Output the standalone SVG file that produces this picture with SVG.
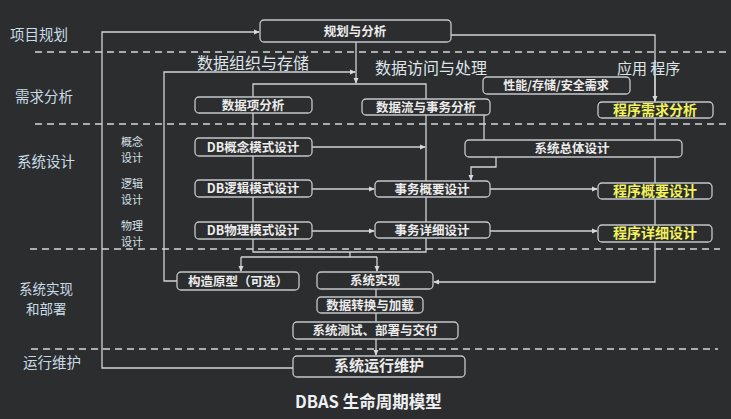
<svg xmlns="http://www.w3.org/2000/svg" width="731" height="419" viewBox="0 0 731 419">
<defs>
<marker id="ah" viewBox="0 0 8 8" refX="7" refY="4" markerWidth="6" markerHeight="6" orient="auto" markerUnits="userSpaceOnUse">
<path d="M0,0.5 L8,4 L0,7.5 Z" fill="#d6dade"/>
</marker>
<style>
.bg{fill:#2c2d2f}
.dash{stroke:#d4d8dc;stroke-width:1.6;stroke-dasharray:7 5;fill:none}
.ln{stroke:#d0d4d8;stroke-width:1.3;fill:none}
.arr{marker-end:url(#ah)}
.box{fill:#2c2d2f;stroke:#c4c8cc;stroke-width:1.3}
.bt{font-family:"Noto Sans CJK SC","Liberation Sans",sans-serif;font-size:12.5px;font-weight:bold;fill:#ececec;text-anchor:middle}
.yt{font-family:"Noto Sans CJK SC","Liberation Sans",sans-serif;font-size:14px;font-weight:bold;fill:#f2f25a;text-anchor:middle}
.lb{font-family:"Noto Sans CJK SC","Liberation Sans",sans-serif;font-size:14.5px;fill:#c8dce6}
.sl{font-family:"Noto Sans CJK SC","Liberation Sans",sans-serif;font-size:11px;fill:#d6e2ea;text-anchor:middle}
.hd{font-family:"Noto Sans CJK SC","Liberation Sans",sans-serif;font-size:16px;fill:#dfe6ea}
</style>
</defs>
<rect class="bg" x="0" y="0" width="731" height="419"/>

<g id="swimlanes">
<line class="dash" x1="35" y1="52" x2="731" y2="52"/>
<line class="dash" x1="35" y1="124" x2="731" y2="124"/>
<line class="dash" x1="30" y1="249" x2="720" y2="249"/>
<line class="dash" x1="31" y1="349" x2="718" y2="349"/>
</g>

<g id="lane-labels">
<text class="lb" x="10" y="40">项目规划</text>
<text class="lb" x="15" y="102">需求分析</text>
<text class="lb" x="17" y="167">系统设计</text>
<text class="lb" x="19" y="294" style="font-size:13.5px">系统实现</text>
<text class="lb" x="26" y="314" style="font-size:13.5px">和部署</text>
<text class="lb" x="23" y="368">运行维护</text>
<text class="sl" x="132" y="146">概念</text>
<text class="sl" x="132" y="162">设计</text>
<text class="sl" x="132" y="188">逻辑</text>
<text class="sl" x="132" y="204">设计</text>
<text class="sl" x="132" y="230">物理</text>
<text class="sl" x="132" y="246">设计</text>
<text class="hd" x="197" y="69">数据组织与存储</text>
<text class="hd" x="375" y="74">数据访问与处理</text>
<text class="hd" x="617" y="74" style="font-size:15px">应用 程序</text>
</g>

<g id="connectors">
<path class="ln arr" d="M293,368 H102 V32 H259"/>
<path class="ln arr" d="M451,35 H655 V282 H434"/>
<path class="ln arr" d="M655,60 V101"/>
<path class="ln arr" d="M356,42 V83"/>
<path class="ln arr" d="M177,281 H164 V72 H355"/>
<path class="ln" d="M253,84 H426 V252 H253 Z"/>
<path class="ln" d="M350,252 V257 M241,257 H377"/>
<path class="ln arr" d="M241,257 V271"/>
<path class="ln arr" d="M377,257 V271"/>
<path class="ln arr" d="M312,147 H425"/>
<path class="ln arr" d="M312,189 H374"/>
<path class="ln arr" d="M312,231 H374"/>
<path class="ln" d="M484,115 V140"/>
<path class="ln arr" d="M496,157 V167 H471 V180"/>
<path class="ln arr" d="M490,189 H597"/>
<path class="ln arr" d="M490,231 H597"/>
<path class="ln" d="M376,289 V297 M376,313 V322"/>
<path class="ln arr" d="M376,339 V355"/>
</g>

<g id="n-plan"><rect class="box" x="260" y="20" width="191" height="22" rx="4"/><text class="bt" x="355" y="36">规划与分析</text></g>
<g id="n-perf"><rect class="box" x="483" y="77" width="147" height="17" rx="4"/><text class="bt" x="556" y="90" style="font-size:12px">性能/存储/安全需求</text></g>
<g id="n-item"><rect class="box" x="195" y="97" width="117" height="16" rx="4"/><text class="bt" x="253" y="110">数据项分析</text></g>
<g id="n-flow"><rect class="box" x="362" y="99" width="128" height="16" rx="4"/><text class="bt" x="426" y="112">数据流与事务分析</text></g>
<g id="n-preq"><rect class="box" x="598" y="102" width="115" height="16" rx="4"/><text class="yt" x="655" y="115">程序需求分析</text></g>
<g id="n-sys"><rect class="box" x="465" y="140" width="217" height="17" rx="4"/><text class="bt" x="572" y="153">系统总体设计</text></g>
<g id="n-dbc"><rect class="box" x="195" y="138" width="117" height="18" rx="4"/><text class="bt" x="253" y="152">DB概念模式设计</text></g>
<g id="n-dbl"><rect class="box" x="195" y="180" width="117" height="17" rx="4"/><text class="bt" x="253" y="193">DB逻辑模式设计</text></g>
<g id="n-dbp"><rect class="box" x="195" y="222" width="117" height="17" rx="4"/><text class="bt" x="253" y="235">DB物理模式设计</text></g>
<g id="n-txo"><rect class="box" x="375" y="181" width="115" height="16" rx="4"/><text class="bt" x="432" y="194">事务概要设计</text></g>
<g id="n-txd"><rect class="box" x="375" y="222" width="115" height="16" rx="4"/><text class="bt" x="432" y="235">事务详细设计</text></g>
<g id="n-po"><rect class="box" x="598" y="183" width="114" height="16" rx="4"/><text class="yt" x="655" y="196">程序概要设计</text></g>
<g id="n-pd"><rect class="box" x="598" y="225" width="114" height="17" rx="4"/><text class="yt" x="655" y="238">程序详细设计</text></g>
<g id="n-proto"><rect class="box" x="177" y="272" width="122" height="18" rx="4"/><text class="bt" x="238" y="286">构造原型（可选）</text></g>
<g id="n-impl"><rect class="box" x="317" y="272" width="116" height="17" rx="4"/><text class="bt" x="375" y="285">系统实现</text></g>
<g id="n-load"><rect class="box" x="317" y="297" width="106" height="16" rx="4"/><text class="bt" x="370" y="310">数据转换与加载</text></g>
<g id="n-test"><rect class="box" x="293" y="322" width="165" height="17" rx="4"/><text class="bt" x="375" y="335">系统测试、部署与交付</text></g>
<g id="n-run"><rect class="box" x="293" y="356" width="172" height="21" rx="4"/><text class="bt" x="379" y="371" style="font-size:15px">系统运行维护</text></g>

<text x="295" y="408" style="font-family:'Noto Sans CJK SC','Liberation Sans',sans-serif;font-size:16.5px;font-weight:bold;fill:#eef0f2">DBAS 生命周期模型</text>
</svg>
